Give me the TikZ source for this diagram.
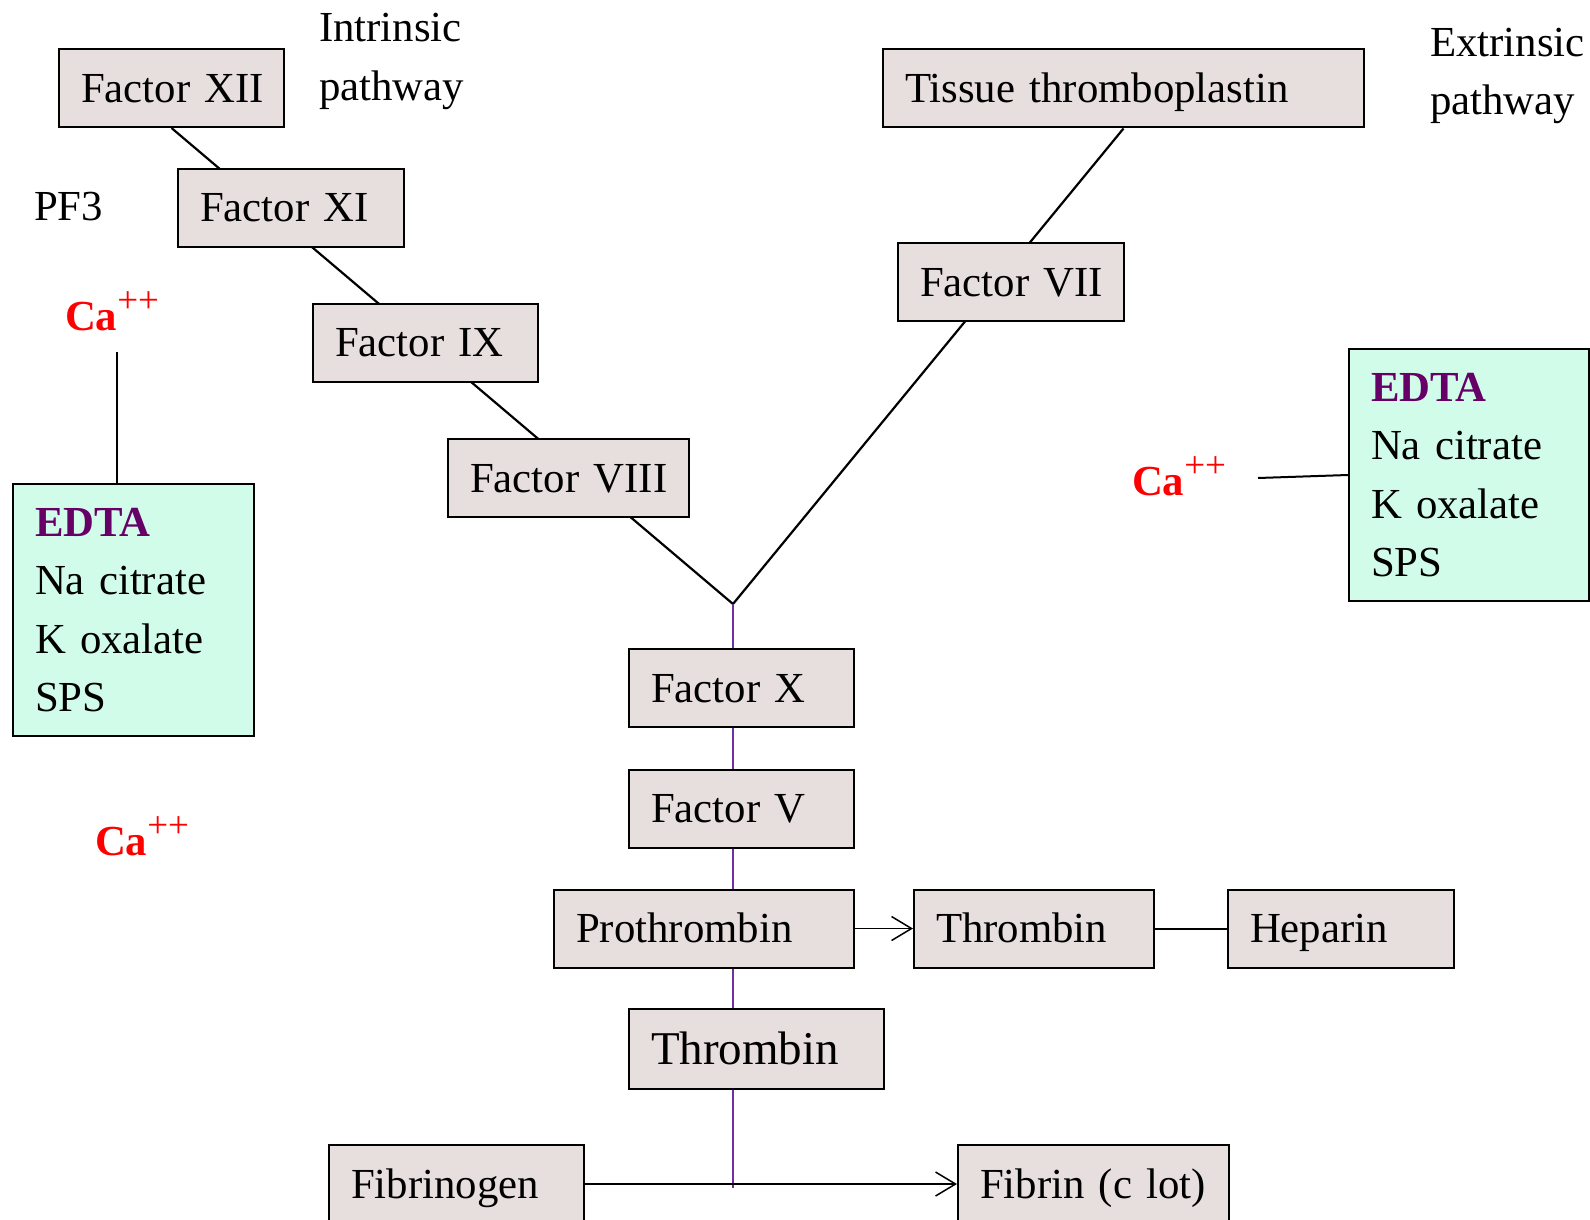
\documentclass[tikz,border=0pt]{standalone}
\usepackage{fontspec}
\setmainfont{Liberation Serif}
\usetikzlibrary{arrows.meta,backgrounds}

\definecolor{boxfill}{RGB}{231,222,222}
\definecolor{edtafill}{RGB}{210,252,234}
\definecolor{edtatext}{RGB}{102,0,102}
\definecolor{pathline}{RGB}{112,48,160}

\newcommand{\calcium}{{\color{red}\textbf{Ca}\raisebox{0.42em}{\fontsize{18.5}{18.5}\selectfont ++}}}
\newcommand{\capstrut}{\rule[-0.33em]{0pt}{1.33em}}

\tikzstyle{factor} = [draw, line width=1pt, fill=boxfill, inner xsep=11pt, inner ysep=0pt, minimum height=39pt, align=left]
\tikzstyle{edta} = [draw, line width=1pt, fill=edtafill, inner xsep=11pt, minimum height=126pt, align=left]
\tikzstyle{plain} = [inner sep=0pt, align=left, anchor=west]
\tikzstyle{link} = [line width=1.1pt]

\begin{document}
\begin{tikzpicture}[x=0.5pt, y=-0.5pt, line width=1pt,
		every node/.style={font=\fontsize{21.4}{29.3}\selectfont}]
		\useasboundingbox (0,0) rectangle (1590,1220);
		%\draw[help lines, step=100] (0,0) grid (1590,1220);
		\foreach \x/\y/\n/\w/\t in {171.5/88/f12/90.5/Factor XII, 291/207.5/f11/91/Factor XI,
			425.5/342.5/f9/90.5/Factor IX, 568.5/478/f8/98.5/Factor VIII,
			1123.5/88.5/tissue/218.5/Tissue thromboplastin, 1011/282/f7/91/Factor VII,
			741.5/688/f10/90.5/Factor X, 741.5/808.5/f5/90.5/Factor V,
			704/928.5/prothrombin/128/Prothrombin, 1034/928.5/thrombin/98/Thrombin,
			1341/928.5/heparin/91/Heparin, 456.5/1184/fibrinogen/105.5/Fibrinogen,
			1093.5/1184/fibrin/113.5/Fibrin (c lot)}
		\node[factor, text width=\w pt] (\n) at (\x,\y) {\mbox{\capstrut\t}};
		\node[factor, text width=105.5pt, minimum height=40pt, font=\fontsize{23.5}{29.3}\selectfont] (thrombinB) at (756.5,1049) {\mbox{\capstrut Thrombin}};

		% anticoagulant boxes
		\node[edta, text width=98.5pt] (edtaL) at (133.5,610) {{\color{edtatext}\textbf{EDTA}}\\Na citrate\\K oxalate\\SPS};
		\node[edta, text width=98pt] (edtaR) at (1469,475) {{\color{edtatext}\textbf{EDTA}}\\Na citrate\\K oxalate\\SPS};

		\node[plain] (intr) at (318,61.5) {Intrinsic\\pathway};
		\node[plain] (extr) at (1429,76) {Extrinsic\\pathway};
		\node[plain] (pf3) at (33,207) {PF3};
		\node[plain] (caA) at (64,311) {\calcium};
		\node[plain] (caB) at (94,836) {\calcium};
		\node[plain] (caC) at (1131,476) {\calcium};

		\coordinate (join) at (733,604);
		\coordinate (caAend) at (117,352);
		\coordinate (caCend) at (1258,478);
		\coordinate (bottom) at (733,1188);

		\begin{scope}[on background layer]
			\draw[link] (f12.south) -- (join);
			\draw[link] (tissue.south) -- (join);
			\draw[link, pathline] (join) -- (bottom);
		\end{scope}
		\draw (caAend) -- (caAend |- edtaL.north);
		\draw (caCend) -- (edtaR.west);
		\draw[line width=0.75pt, -{Straight Barb[length=10pt, width=12pt]}] (prothrombin) -- (thrombin);
		\draw (thrombin) -- (heparin);
		\draw[line width=0.75pt, -{Straight Barb[length=10pt, width=12pt]}] (fibrinogen) -- (fibrin);
	\end{tikzpicture}
\end{document}
